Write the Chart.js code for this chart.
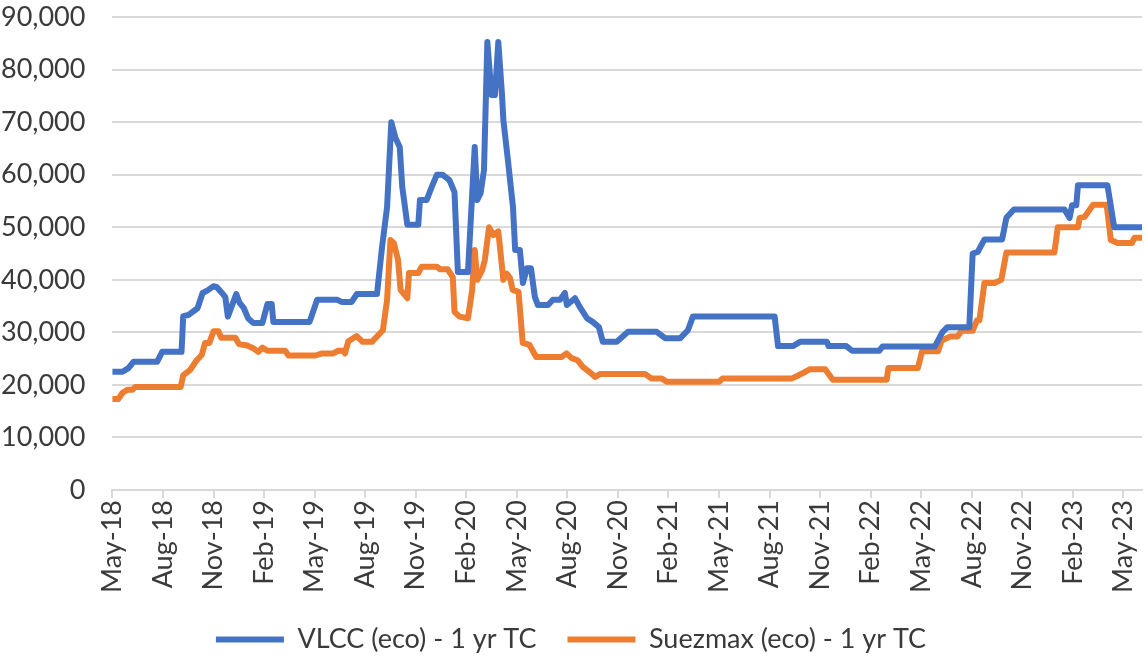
<!DOCTYPE html>
<html>
<head>
<meta charset="utf-8">
<script src="https://cdn.jsdelivr.net/npm/chart.js@4.4.1/dist/chart.umd.min.js"></script>
<style>
    body { margin: 0; background: #fff; }
    #wrap { width: 1144px; height: 669px; position: relative; }
</style>
</head>
<body>
<div id="wrap"><canvas id="chart"></canvas></div>
<script>
// x values are months since 1 May 2018
const tickMonths = [0, 3, 6, 9, 12, 15, 18, 21, 24, 27, 30, 33, 36, 39, 42, 45, 48, 51, 54, 57, 60];
const tickLabels = ["May-18", "Aug-18", "Nov-18", "Feb-19", "May-19", "Aug-19", "Nov-19", "Feb-20",
    "May-20", "Aug-20", "Nov-20", "Feb-21", "May-21", "Aug-21", "Nov-21", "Feb-22", "May-22",
    "Aug-22", "Nov-22", "Feb-23", "May-23"];

// VLCC (eco) - 1 yr TC, $/day
const vlccMonths = [0, 0.6, 0.95, 1.25, 2.65, 2.95, 4.1, 4.2, 4.5, 5.05, 5.35, 5.65, 6.0, 6.2, 6.5, 6.7, 6.85,
    7.35, 7.55, 7.8, 8.05, 8.35, 8.9, 9.2, 9.45, 9.55, 11.7, 12.15, 13.35, 13.6, 14.2, 14.5, 15.7, 16.0,
    16.3, 16.55, 16.8, 17.05, 17.2, 17.5, 18.15, 18.25, 18.65, 18.95, 19.25, 19.6, 20.0, 20.3, 20.5, 21.1,
    21.5, 21.65, 21.85, 22.05, 22.25, 22.5, 22.7, 22.9, 23.12, 23.2, 23.47, 23.77, 23.9, 24.18, 24.36,
    24.6, 24.84, 25.07, 25.25, 25.85, 26.14, 26.56, 26.85, 26.97, 27.45, 27.74, 28.16, 28.5, 28.87, 29.1,
    29.93, 30.6, 32.3, 32.8, 33.7, 34.15, 34.45, 39.3, 39.5, 40.4, 40.8, 42.4, 42.5, 43.55, 43.9, 45.5,
    45.7, 48.8, 49.25, 49.55, 50.85, 51.05, 51.35, 51.75, 52.8, 53.05, 53.5, 56.5, 56.8, 56.95, 57.2,
    57.3, 59.05, 59.45, 61.1];
const vlccRates = [22500, 22500, 23200, 24400, 24400, 26300, 26300, 33100, 33300, 34600, 37500, 38000, 38800,
    38600, 37500, 36700, 33000, 37300, 35600, 34600, 32700, 31800, 31800, 35400, 35400, 32000, 32000, 36200,
    36200, 35800, 35800, 37300, 37300, 46200, 53900, 70000, 67000, 65300, 57700, 50500, 50500, 55200, 55200,
    57700, 60000, 60000, 59000, 56700, 41500, 41500, 65300, 55200, 56500, 60900, 85300, 75200, 75200, 85300,
    75200, 70400, 62800, 53900, 45700, 45700, 39400, 42200, 42200, 36700, 35200, 35200, 36200, 36200, 37500,
    35200, 36500, 34800, 32700, 32000, 31000, 28200, 28200, 30100, 30100, 28900, 28900, 30400, 33000, 33000,
    27400, 27400, 28200, 28200, 27400, 27400, 26500, 26500, 27300, 27300, 30000, 31000, 31000, 45000, 45300,
    47700, 47700, 51800, 53400, 53400, 51800, 54200, 54200, 58000, 58000, 50000, 50000];

// Suezmax (eco) - 1 yr TC, $/day
const suezMonths = [0, 0.35, 0.6, 0.9, 1.2, 1.35, 4.05, 4.2, 4.6, 5.0, 5.3, 5.5, 5.75, 6.0, 6.3, 6.45, 7.3, 7.5,
    8.0, 8.35, 8.65, 8.9, 9.2, 10.25, 10.45, 12.05, 12.45, 13.1, 13.4, 13.7, 13.8, 14.0, 14.5, 14.85, 15.4,
    16.05, 16.3, 16.5, 16.7, 16.95, 17.1, 17.5, 17.6, 18.15, 18.35, 19.25, 19.45, 19.9, 20.2, 20.3, 20.6,
    21.1, 21.35, 21.5, 21.65, 21.95, 22.1, 22.35, 22.6, 22.9, 23.2, 23.4, 23.6, 23.75, 24.1, 24.35, 24.75,
    25.15, 26.65, 26.95, 27.25, 27.6, 27.9, 28.3, 28.65, 28.95, 31.6, 32.0, 32.6, 32.9, 36.0, 36.2, 40.3,
    40.7, 41.0, 41.4, 42.3, 42.75, 45.95, 46.05, 47.8, 48.05, 49.0, 49.2, 49.7, 50.15, 50.4, 51.05, 51.3,
    51.45, 51.75, 52.35, 52.75, 53.05, 55.9, 56.1, 57.3, 57.4, 57.7, 58.2, 59.0, 59.25, 59.65, 60.5, 60.65,
    61.1];
const suezRates = [17300, 17300, 18500, 19100, 19100, 19600, 19600, 21800, 22800, 24700, 25700, 28000, 28000,
    30200, 30200, 29000, 29000, 27800, 27500, 27000, 26300, 27100, 26500, 26500, 25600, 25600, 26000, 26000,
    26500, 26500, 26000, 28300, 29300, 28200, 28200, 30400, 36200, 47600, 47000, 43800, 38100, 36500, 41300,
    41300, 42500, 42500, 42000, 42000, 40500, 33900, 33000, 32700, 38100, 45700, 40000, 41900, 43800, 50000,
    48500, 49200, 40000, 41200, 40300, 38100, 37700, 28000, 27600, 25300, 25300, 26000, 25100, 24700, 23500,
    22500, 21500, 22100, 22100, 21200, 21200, 20600, 20600, 21200, 21200, 21800, 22300, 23000, 23000, 21000,
    21000, 23200, 23200, 26400, 26400, 28400, 29200, 29200, 30300, 30300, 32300, 32300, 39400, 39400, 40000,
    45200, 45200, 50000, 50000, 51800, 52000, 54300, 54300, 47600, 47000, 47000, 48000, 48000];

const toPoints = (xs, ys) => xs.map((x, i) => ({ x: x, y: ys[i] }));

const textColor = "#3a3a3a";
const gridColor = "#d9d9d9";
const fontFamily = "Lato, 'Open Sans', sans-serif";
const fontSize = 27;

const ctx = document.querySelector("#chart").getContext("2d");

const chart = new Chart(ctx, {
    type: "line",
    data: {
        datasets: [{
            label: "VLCC (eco) - 1 yr TC",
            data: toPoints(vlccMonths, vlccRates),
            borderColor: "#4472c4",
            backgroundColor: "#4472c4",
            borderWidth: 6,
            pointRadius: 0,
            borderJoinStyle: "round",
            borderCapStyle: "round"
        }, {
            label: "Suezmax (eco) - 1 yr TC",
            data: toPoints(suezMonths, suezRates),
            borderColor: "#ed7d31",
            backgroundColor: "#ed7d31",
            borderWidth: 6,
            pointRadius: 0,
            borderJoinStyle: "round",
            borderCapStyle: "round"
        }]
    },
    options: {
        responsive: true,
        maintainAspectRatio: false,
        animation: false,
        layout: { padding: { top: 0, right: 2, bottom: 6, left: 0 } },
        plugins: {
            tooltip: { enabled: false },
            legend: {
                position: "bottom",
                labels: {
                    usePointStyle: true,
                    pointStyle: "line",
                    pointStyleWidth: 68,
                    boxHeight: 6,
                    padding: 31,
                    color: textColor,
                    font: { family: fontFamily, size: fontSize }
                }
            }
        },
        scales: {
            x: {
                type: "linear",
                min: 0,
                max: 61.1,
                afterBuildTicks: scale => {
                    scale.ticks = tickMonths.map(m => ({ value: m }));
                },
                afterFit: scale => {
                    scale.paddingRight = 0;
                },
                ticks: {
                    minRotation: 90,
                    maxRotation: 90,
                    padding: 2,
                    color: textColor,
                    font: { family: fontFamily, size: fontSize },
                    callback: value => tickLabels[tickMonths.indexOf(value)]
                },
                grid: {
                    drawOnChartArea: false,
                    drawTicks: true,
                    tickLength: 8,
                    color: gridColor,
                    lineWidth: 2
                },
                border: { display: true, color: gridColor, width: 2 }
            },
            y: {
                min: 0,
                max: 90000,
                ticks: {
                    stepSize: 10000,
                    padding: 1,
                    color: textColor,
                    font: { family: fontFamily, size: fontSize },
                    callback: value => value.toLocaleString("en-US")
                },
                grid: {
                    color: gridColor,
                    lineWidth: 2,
                    drawTicks: true,
                    tickLength: 26,
                    tickColor: "rgba(0,0,0,0)"
                },
                border: { display: false }
            }
        }
    }
});
</script>
</body>
</html>
